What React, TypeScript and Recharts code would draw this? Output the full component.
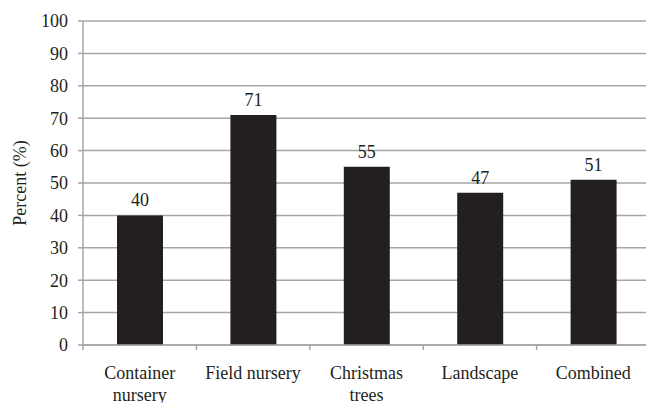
import React from 'react';
import { BarChart, Bar, XAxis, YAxis, CartesianGrid, LabelList } from 'recharts';

const categories = ['Container\nnursery', 'Field nursery', 'Christmas\ntrees', 'Landscape', 'Combined'];
const percents = [40, 71, 55, 47, 51];
const yTicks = [0, 10, 20, 30, 40, 50, 60, 70, 80, 90, 100];

const data = categories.map((name, i) => ({ name, pct: percents[i] }));

const FONT = "'Liberation Serif', 'Times New Roman', serif";
const INK = '#231f20';
const GRID = '#a6a6a6';

// category label plus tick marks on the band edges (Excel style)
const CategoryTick = (props: any) => {
  const { x, y, payload, index } = props;
  const half = payload.offset ?? 0;
  const lines = String(payload.value).split('\n');
  return (
    <g>
      <line x1={x - half} x2={x - half} y1={y} y2={y + 5} stroke={GRID} strokeWidth={1.5} />
      {index === categories.length - 1 && (
        <line x1={x + half} x2={x + half} y1={y} y2={y + 5} stroke={GRID} strokeWidth={1.5} />
      )}
      <text x={x} y={y} textAnchor="middle" fill={INK} style={{ fontFamily: FONT, fontSize: 18 }}>
        {lines.map((line, i) => (
          <tspan key={i} x={x} dy={i === 0 ? 34 : 22}>
            {line}
          </tspan>
        ))}
      </text>
    </g>
  );
};

export default function App() {
  return (
    <div
      style={{
        position: 'absolute',
        left: 0,
        top: 0,
        width: 646,
        height: 403,
        overflow: 'hidden',
        fontFamily: FONT,
      }}
    >
      <BarChart
        width={660}
        height={403}
        data={data}
        margin={{ top: 21, right: 10, left: 0, bottom: 0 }}
        style={{ fontFamily: FONT }}
      >
        <CartesianGrid vertical={false} stroke={GRID} strokeWidth={1.5} />
        <XAxis
          dataKey="name"
          height={58}
          axisLine={{ stroke: GRID, strokeWidth: 1.5 }}
          tickLine={false}
          tickSize={0}
          tickMargin={0}
          tick={<CategoryTick />}
          interval={0}
        />
        <YAxis
          width={83}
          domain={[0, 100]}
          ticks={yTicks}
          interval={0}
          axisLine={{ stroke: GRID, strokeWidth: 1.5 }}
          tickLine={{ stroke: GRID, strokeWidth: 1.5 }}
          tickSize={5}
          tickMargin={10}
          tick={{ fill: INK, fontSize: 18, style: { fontFamily: FONT } }}
          label={{
            value: 'Percent (%)',
            angle: -90,
            position: 'insideLeft',
            offset: 20,
            style: { textAnchor: 'middle', fill: INK, fontSize: 18, fontFamily: FONT },
          }}
        />
        <Bar dataKey="pct" fill={INK} barSize={46} isAnimationActive={false}>
          <LabelList
            dataKey="pct"
            position="top"
            offset={9}
            fill={INK}
            fontSize={18}
            style={{ fontFamily: FONT }}
          />
        </Bar>
      </BarChart>
    </div>
  );
}
